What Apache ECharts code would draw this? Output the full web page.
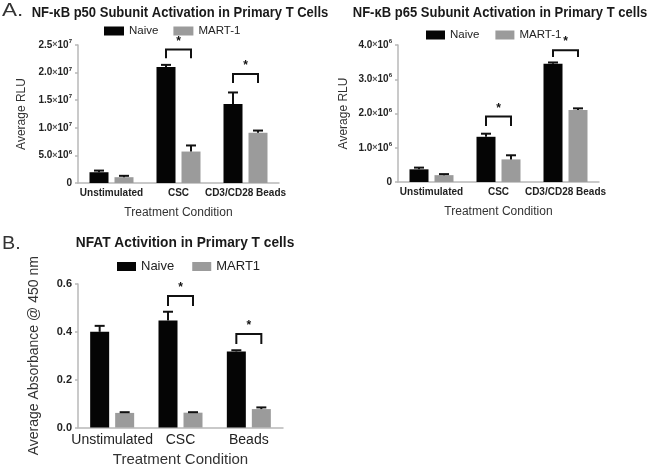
<!DOCTYPE html>
<html><head><meta charset="utf-8">
<script src="https://cdn.jsdelivr.net/npm/echarts@6/dist/echarts.min.js"></script>
<style>html,body{margin:0;padding:0;background:#fff}#c{width:653px;height:472px}</style>
</head><body><div id="c"></div>
<script>
// ---------- data ----------
const categoriesA = ['Unstimulated', 'CSC', 'CD3/CD28 Beads'];
const categoriesB = ['Unstimulated', 'CSC', 'Beads'];
const seriesNamesA = ['Naive', 'MART-1'];
const seriesNamesB = ['Naive', 'MART1'];

const p50Naive    = [1.95e6, 2.10e7, 1.43e7];
const p50NaiveErr = [0.30e6, 0.04e7, 0.21e7];
const p50Mart     = [1.05e6, 5.7e6, 9.1e6];
const p50MartErr  = [0.25e6, 1.1e6, 0.4e6];

const p65Naive    = [0.37e6, 1.32e6, 3.45e6];
const p65NaiveErr = [0.05e6, 0.09e6, 0.04e6];
const p65Mart     = [0.20e6, 0.66e6, 2.10e6];
const p65MartErr  = [0.03e6, 0.12e6, 0.05e6];

const nfatNaive    = [0.400, 0.447, 0.318];
const nfatNaiveErr = [0.025, 0.037, 0.005];
const nfatMart     = [0.061, 0.062, 0.077];
const nfatMartErr  = [0.003, 0.002, 0.007];

// significance brackets: [category index, bracket top value, leg bottom value]
const p50Sig  = [[1, 2.42e7, 2.26e7], [2, 1.975e7, 1.81e7]];
const p65Sig  = [[1, 1.91e6, 1.635e6], [2, 3.85e6, 3.65e6]];
const nfatSig = [[1, 0.55, 0.508], [2, 0.391, 0.349]];

// y axis ticks
const p50Ticks  = {min: 0, max: 2.5e7, interval: 5e6};
const p65Ticks  = {min: 0, max: 4e6, interval: 1e6};
const nfatTicks = {min: 0, max: 0.6, interval: 0.2};

// ---------- styling ----------
const BLACK = '#050505', GRAY = '#9b9b9b', AXIS = '#b8b8b8', TXT = '#222';
const BAR_W = 19, BAR_GAP = 6;
const OFF = (BAR_W + BAR_GAP) / 2;

function sci(v) {
  if (v === 0) return '{b|0}';
  const e = Math.floor(Math.log10(v) + 1e-9);
  const m = (v / Math.pow(10, e)).toFixed(1);
  return '{b|' + m + '}{x|×}{b|10}{s|' + e + '}';
}
const sciRich = {
  b: {fontSize: 10, fontWeight: 'bold', color: TXT, fontFamily: 'Liberation Sans', lineHeight: 13},
  x: {fontSize: 9, color: '#555', fontFamily: 'Liberation Sans', lineHeight: 13},
  s: {fontSize: 6, fontWeight: 'bold', color: TXT, fontFamily: 'Liberation Sans', verticalAlign: 'top', lineHeight: 13}
};

function errSeries(vals, errs, sign, xi) {
  return {
    type: 'custom', xAxisIndex: xi, yAxisIndex: xi, z: 5, silent: true,
    data: vals.map((v, i) => [i, v, errs[i]]),
    encode: {x: 0, y: 1},
    renderItem: function (params, api) {
      const c = api.value(0), v = api.value(1), e = api.value(2);
      const p0 = api.coord([c, v]), p1 = api.coord([c, v + e]);
      const x = p0[0] + sign * OFF;
      const st = {stroke: '#111', lineWidth: 2};
      return {type: 'group', children: [
        {type: 'line', shape: {x1: x, y1: p0[1], x2: x, y2: p1[1]}, style: st},
        {type: 'line', shape: {x1: x - 5, y1: p1[1], x2: x + 5, y2: p1[1]}, style: st}
      ]};
    }
  };
}
function sigSeries(sig, xi) {
  return {
    type: 'custom', xAxisIndex: xi, yAxisIndex: xi, z: 6, silent: true,
    data: sig, encode: {x: 0, y: 1},
    renderItem: function (params, api) {
      const c = api.value(0), t = api.value(1), b = api.value(2);
      const pt = api.coord([c, t]), pb = api.coord([c, b]);
      const xl = pt[0] - OFF, xr = pt[0] + OFF;
      return {type: 'group', children: [
        {type: 'polyline', shape: {points: [[xl, pb[1]], [xl, pt[1]], [xr, pt[1]], [xr, pb[1]]]},
         style: {stroke: '#111', lineWidth: 2, fill: null}},
        {type: 'text', x: pt[0], y: pt[1] - 2,
         style: {text: '*', fill: '#111', font: 'bold 12px Liberation Sans',
                 align: 'center', verticalAlign: 'bottom', textAlign: 'center', textVerticalAlign: 'bottom'}}
      ]};
    }
  };
}
function barSeries(name, vals, color, xi) {
  return {type: 'bar', name: name, xAxisIndex: xi, yAxisIndex: xi, data: vals,
          barWidth: BAR_W, barGap: (BAR_GAP / BAR_W * 100) + '%',
          itemStyle: {color: color}, silent: true};
}
function yAxis(gi, ticks, fmt, rich, name, nameSize, nameGap, lblSize, lblMargin) {
  return {
    type: 'value', gridIndex: gi, min: ticks.min, max: ticks.max, interval: ticks.interval,
    name: name, nameLocation: 'middle', nameGap: nameGap,
    nameTextStyle: {fontSize: nameSize, color: '#333', fontFamily: 'Liberation Sans'},
    axisLine: {show: true, lineStyle: {color: AXIS, width: 1.5}},
    axisTick: {show: true, length: 3, lineStyle: {color: AXIS, width: 1.5}},
    splitLine: {show: false},
    axisLabel: {formatter: fmt, rich: rich, margin: lblMargin, fontSize: lblSize, fontWeight: 'bold',
                color: TXT, fontFamily: 'Liberation Sans'}
  };
}
function xAxis(gi, cats, lblSize, lblWeight, lblMargin, nameSize, nameGap) {
  return {
    type: 'category', gridIndex: gi, data: cats,
    name: 'Treatment Condition', nameLocation: 'middle', nameGap: nameGap,
    nameTextStyle: {fontSize: nameSize, color: '#333', fontFamily: 'Liberation Sans'},
    axisLine: {show: true, lineStyle: {color: AXIS, width: 1.5}},
    axisTick: {show: false},
    axisLabel: {fontSize: lblSize, fontWeight: lblWeight, color: TXT, margin: lblMargin,
                fontFamily: 'Liberation Sans', interval: 0}
  };
}
function legend(names, left, top, fs, iw, ih, gap) {
  return {data: names, left: left, top: top, padding: 0, itemWidth: iw, itemHeight: ih, itemGap: gap,
          icon: 'rect', selectedMode: false,
          textStyle: {fontSize: fs, color: '#222', fontFamily: 'Liberation Sans'}};
}
function label(text, x, y, font, sx) {
  return {type: 'text', x: x, y: y, scaleX: sx || 1, silent: true,
          style: {text: text, font: font, fill: '#1a1a1a', align: 'center', verticalAlign: 'middle',
                  textAlign: 'center', textVerticalAlign: 'middle'}};
}

const chart = echarts.init(document.getElementById('c'), null, {renderer: 'canvas'});
chart.setOption({
  backgroundColor: '#fff',
  animation: false,
  textStyle: {fontFamily: 'Liberation Sans'},
  graphic: [
    {type: 'text', x: 2, y: 2, scaleX: 1.25, silent: true, style: {text: 'A.', font: '18px Liberation Sans', fill: '#333'}},
    {type: 'text', x: 2, y: 235, scaleX: 1.1, silent: true, style: {text: 'B.', font: '18px Liberation Sans', fill: '#333'}},
    label('NF-κB p50 Subunit Activation in Primary T Cells', 180, 13, 'bold 14px Liberation Sans', 0.93),
    label('NF-κB p65 Subunit Activation in Primary T cells', 500, 13, 'bold 14px Liberation Sans', 0.93),
    label('NFAT Activition in Primary T cells', 185, 243, 'bold 14px Liberation Sans', 0.98)
  ],
  legend: [
    legend(seriesNamesA, 104, 25, 11.5, 20, 9, 15),
    legend(seriesNamesA, 426, 29, 11.5, 19, 9, 16),
    legend(seriesNamesB, 117, 260, 13, 19, 9, 18)
  ],
  grid: [
    {left: 78, top: 45, width: 201, height: 138},
    {left: 398, top: 45, width: 201, height: 137},
    {left: 78, top: 284, width: 205, height: 143.5}
  ],
  xAxis: [
    xAxis(0, categoriesA, 10, 'bold', 5, 12, 24),
    xAxis(1, categoriesA, 10, 'bold', 5, 12, 24),
    xAxis(2, categoriesB, 14, 'normal', 6, 15, 25)
  ],
  yAxis: [
    yAxis(0, p50Ticks, sci, sciRich, 'Average RLU', 12, 50, 10, 6),
    yAxis(1, p65Ticks, sci, sciRich, 'Average RLU', 12, 48, 10, 6),
    yAxis(2, nfatTicks, v => v.toFixed(1), null, 'Average Absorbance @ 450 nm', 14, 37, 11, 6)
  ],
  series: [
    barSeries(seriesNamesA[0], p50Naive, BLACK, 0),
    barSeries(seriesNamesA[1], p50Mart, GRAY, 0),
    barSeries(seriesNamesA[0], p65Naive, BLACK, 1),
    barSeries(seriesNamesA[1], p65Mart, GRAY, 1),
    barSeries(seriesNamesB[0], nfatNaive, BLACK, 2),
    barSeries(seriesNamesB[1], nfatMart, GRAY, 2),
    errSeries(p50Naive, p50NaiveErr, -1, 0),
    errSeries(p50Mart, p50MartErr, 1, 0),
    errSeries(p65Naive, p65NaiveErr, -1, 1),
    errSeries(p65Mart, p65MartErr, 1, 1),
    errSeries(nfatNaive, nfatNaiveErr, -1, 2),
    errSeries(nfatMart, nfatMartErr, 1, 2),
    sigSeries(p50Sig, 0),
    sigSeries(p65Sig, 1),
    sigSeries(nfatSig, 2)
  ]
});
</script>
</body></html>
